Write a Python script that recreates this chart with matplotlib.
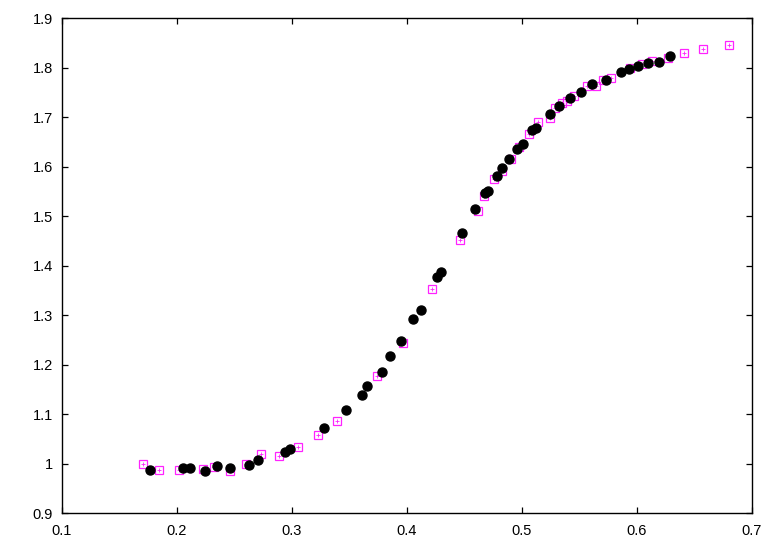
import matplotlib
matplotlib.use("Agg")
import matplotlib.pyplot as plt

plt.rcParams['font.family'] = ['Liberation Sans', 'DejaVu Sans']

# Series 1: black filled circles
circ_x = [0.1768, 0.2057, 0.2115, 0.2248, 0.2347, 0.2465, 0.2628, 0.2704, 0.2937, 0.2984,
          0.3284, 0.3475, 0.3613, 0.3654, 0.3781, 0.3854, 0.3949, 0.4056, 0.4120, 0.4260,
          0.4299, 0.4479, 0.4590, 0.4675, 0.4708, 0.4782, 0.4823, 0.4890, 0.4959, 0.5007,
          0.5092, 0.5123, 0.5244, 0.5325, 0.5418, 0.5512, 0.5608, 0.5733, 0.5861, 0.5931,
          0.6011, 0.6096, 0.6193, 0.6290]
circ_y = [0.9875, 0.9909, 0.9909, 0.9855, 0.9960, 0.9909, 0.9982, 1.0077, 1.0234, 1.0295,
          1.0723, 1.1077, 1.1384, 1.1572, 1.1861, 1.2172, 1.2487, 1.2935, 1.3113, 1.3780,
          1.3865, 1.4657, 1.5143, 1.5461, 1.5511, 1.5814, 1.5980, 1.6162, 1.6356, 1.6455,
          1.6743, 1.6794, 1.7067, 1.7228, 1.7394, 1.7511, 1.7679, 1.7753, 1.7909, 1.7976,
          1.8030, 1.8091, 1.8121, 1.8234]

# Series 2: magenta open squares
sq_x = [0.1709, 0.1848, 0.2017, 0.2231, 0.2324, 0.2463, 0.2602, 0.2730, 0.2889, 0.3054,
        0.3225, 0.3397, 0.3743, 0.3967, 0.4216, 0.4459, 0.4616, 0.4669, 0.4755, 0.4827,
        0.4908, 0.4977, 0.5060, 0.5140, 0.5246, 0.5285, 0.5349, 0.5390, 0.5450, 0.5564,
        0.5640, 0.5709, 0.5777, 0.5940, 0.6040, 0.6135, 0.6270, 0.6407, 0.6577, 0.6797]
sq_y = [0.9990, 0.9881, 0.9881, 0.9901, 0.9941, 0.9855, 0.9990, 1.0192, 1.0164, 1.0339,
        1.0582, 1.0871, 1.1774, 1.2440, 1.3541, 1.4521, 1.5113, 1.5420, 1.5754, 1.5915,
        1.6158, 1.6390, 1.6663, 1.6901, 1.6980, 1.7184, 1.7295, 1.7333, 1.7436, 1.7638,
        1.7642, 1.7754, 1.7804, 1.7990, 1.8071, 1.8143, 1.8192, 1.8305, 1.8374, 1.8467]

x_ticks = [0.1, 0.2, 0.3, 0.4, 0.5, 0.6, 0.7]
y_ticks = [0.9, 1.0, 1.1, 1.2, 1.3, 1.4, 1.5, 1.6, 1.7, 1.8, 1.9]
y_labels = ['0.9', '1', '1.1', '1.2', '1.3', '1.4', '1.5', '1.6', '1.7', '1.8', '1.9']

fig = plt.figure(figsize=(7.78, 5.45), dpi=100)
ax = fig.add_axes([0.0793, 0.0582, 0.8873, 0.9082])

mag = '#ff22ff'
ax.plot(sq_x, sq_y, linestyle='none', marker='s', markersize=6.2,
        markerfacecolor='none', markeredgecolor=mag, markeredgewidth=0.9, zorder=2)
ax.plot(sq_x, sq_y, linestyle='none', marker='+', markersize=3.5,
        markeredgecolor=mag, markeredgewidth=0.6, zorder=2)
ax.plot(circ_x, circ_y, linestyle='none', marker='o', markersize=6.5,
        markerfacecolor='black', markeredgecolor='black', zorder=3)

ax.set_xlim(0.1, 0.7)
ax.set_ylim(0.9, 1.9)
ax.set_xticks(x_ticks)
ax.set_xticklabels([f'{v:g}' for v in x_ticks])
ax.set_yticks(y_ticks)
ax.set_yticklabels(y_labels)
ax.tick_params(direction='in', length=4, width=0.9, top=True, right=True,
               labelsize=10.5, colors='black')
ax.tick_params(axis='x', pad=8)
ax.tick_params(axis='y', pad=6.5)
for s in ax.spines.values():
    s.set_linewidth(1.0)

fig.savefig('out.png', dpi=100)
